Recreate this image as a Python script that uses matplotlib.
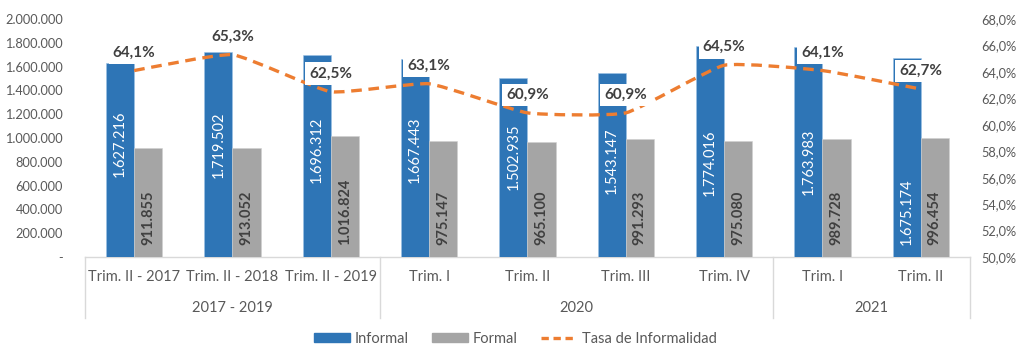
import numpy as np
import matplotlib
matplotlib.use("Agg")
import matplotlib.pyplot as plt
from matplotlib.path import Path
from matplotlib.patches import PathPatch, Patch
from matplotlib.lines import Line2D
from matplotlib.ticker import FuncFormatter, MultipleLocator

plt.rcParams["font.family"] = ["Lato", "DejaVu Sans"]

# --- data -------------------------------------------------------------
quarters = ["Trim. II - 2017", "Trim. II - 2018", "Trim. II - 2019",
            "Trim. I", "Trim. II", "Trim. III", "Trim. IV",
            "Trim. I", "Trim. II"]
groups = ["2017 - 2019", "2020", "2021"]
group_sizes = [3, 4, 2]
informal = [1627216, 1719502, 1696312, 1667443, 1502935,
            1543147, 1774016, 1763983, 1675174]
formal = [911855, 913052, 1016824, 975147, 965100,
          991293, 975080, 989728, 996454]
tasa = [64.1, 65.3, 62.5, 63.1, 60.9, 60.9, 64.5, 64.1, 62.7]

# --- styling ----------------------------------------------------------
BLUE = "#2E75B6"
GRAY = "#A5A5A5"
ORANGE = "#ED7D31"
TXT = "#595959"
DARK = "#404040"
AXIS = "#D9D9D9"

# vertical anchor of the value label inside each "Informal" bar
inf_label_y = [950e3, 941e3, 899e3, 899e3, 840e3, 807e3, 790e3, 798e3, 105e3]
inf_label_va = ["center"] * 8 + ["bottom"]

SMOOTH = 1 / 14  # handle length of the smoothed line


def thousands(v, _pos=None):
    if v == 0:
        return "-"
    return f"{int(round(v)):,}".replace(",", ".")


def pct(v, _pos=None):
    return f"{v:.1f}%".replace(".", ",")


fig = plt.figure(figsize=(10.19, 3.47), dpi=100)
ax = fig.add_axes([85 / 1019, 1 - 257 / 347, (970 - 85) / 1019, (257 - 19) / 347])
ax2 = ax.twinx()

n = len(quarters)
x = np.arange(n)
w = 0.285

ax.bar(x - w, informal, width=w, align="edge", color=BLUE,
       edgecolor="#9DC3E6", linewidth=0.4, zorder=2)
ax.bar(x, formal, width=w, align="edge", color=GRAY,
       edgecolor="#D0D0D0", linewidth=0.4, zorder=2)

for i in range(n):
    ax.text(x[i] - w / 2, inf_label_y[i], thousands(informal[i]),
            rotation=90, ha="center", va=inf_label_va[i],
            color="white", fontsize=10.5, zorder=3)
    ax.text(x[i] + w / 2, 105e3, thousands(formal[i]),
            rotation=90, ha="center", va="bottom",
            color=DARK, fontsize=10.5, fontweight="bold", zorder=3)

ax.set_xlim(-0.5, n - 0.5)
ax.set_ylim(0, 2_000_000)
ax.yaxis.set_major_locator(MultipleLocator(200_000))
ax.yaxis.set_major_formatter(FuncFormatter(thousands))
ax2.set_ylim(50, 68)
ax2.yaxis.set_major_locator(MultipleLocator(2))
ax2.yaxis.set_major_formatter(FuncFormatter(pct))

for a in (ax, ax2):
    for s in ("top", "left", "right", "bottom"):
        a.spines[s].set_visible(False)
    a.tick_params(axis="y", length=0, labelsize=9.2, labelcolor=TXT)
ax.tick_params(axis="y", pad=16)
ax2.tick_params(axis="y", pad=8)
ax.set_xticks([])

# smoothed rate line built from cubic Bezier segments
pts = np.column_stack([x, tasa]).astype(float)
verts = [tuple(pts[0])]
codes = [Path.MOVETO]
for k in range(n - 1):
    p0 = pts[k - 1] if k > 0 else pts[k]
    p1, p2 = pts[k], pts[k + 1]
    p3 = pts[k + 2] if k + 2 < n else pts[k + 1]
    c1 = p1 + (p2 - p0) * SMOOTH
    c2 = p2 - (p3 - p1) * SMOOTH
    verts += [tuple(c1), tuple(c2), tuple(p2)]
    codes += [Path.CURVE4] * 3
ax2.add_patch(PathPatch(Path(verts, codes), facecolor="none",
                        edgecolor=ORANGE, linewidth=2.4,
                        linestyle=(0, (3.2, 2.0)), zorder=4,
                        capstyle="butt"))

for i in range(n):
    ax2.annotate(pct(tasa[i]), xy=(x[i], tasa[i]), xytext=(0, 13),
                 textcoords="offset points", ha="center", va="center",
                 fontsize=11, fontweight="bold", color=DARK, zorder=6,
                 bbox=dict(boxstyle="square,pad=0.28", fc="white", ec="none"))

# multi-level category axis
xt = ax.get_xaxis_transform()
ax.plot([-0.5, n - 0.5], [0, 0], transform=xt, color=AXIS, lw=1,
        clip_on=False, zorder=1)
for i, q in enumerate(quarters):
    ax.text(x[i], -20 / 238, q, transform=xt, ha="center", va="center",
            fontsize=10.5, color=TXT)
edges = np.concatenate([[0], np.cumsum(group_sizes)]) - 0.5
for b in edges:
    ax.plot([b, b], [0, -61 / 238], transform=xt, color=AXIS, lw=1,
            clip_on=False)
for g, lo, hi in zip(groups, edges[:-1], edges[1:]):
    ax.text((lo + hi) / 2, -51 / 238, g, transform=xt, ha="center",
            va="center", fontsize=10.5, color=TXT)

handles = [Patch(color=BLUE, label="Informal"),
           Patch(color=GRAY, label="Formal"),
           Line2D([], [], color=ORANGE, lw=2.4, linestyle=(0, (2.2, 1.4)),
                  label="Tasa de Informalidad")]
fig.legend(handles=handles, loc="center", ncol=3, frameon=False,
           bbox_to_anchor=(515 / 1019, 1 - 339 / 347), fontsize=10.5,
           handlelength=2.5, handleheight=0.6, columnspacing=1.6,
           handletextpad=0.3, labelcolor=TXT)

fig.savefig("out.png", dpi=100)
